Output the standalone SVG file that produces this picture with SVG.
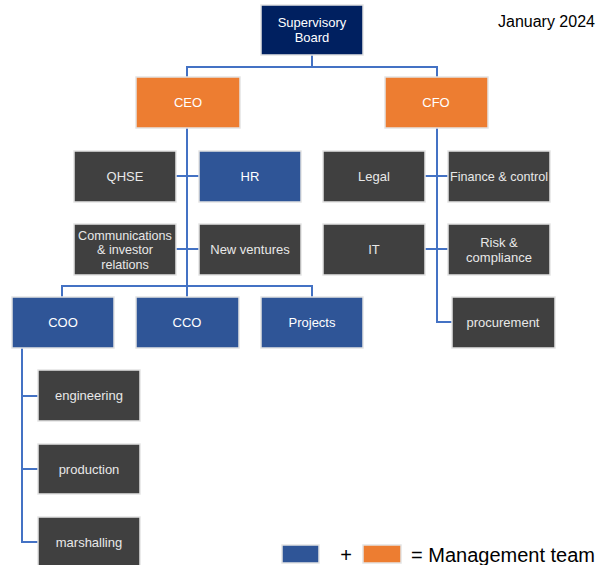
<svg xmlns="http://www.w3.org/2000/svg" width="599" height="565" viewBox="0 0 599 565">
<style>
.box{stroke:#e4e4e4;stroke-width:1.5}
.navy{fill:#002060}
.orange{fill:#ED7D31}
.blue{fill:#2F5597}
.grey{fill:#404040}
.t{font-family:"Liberation Sans",Arial,sans-serif;font-size:13px;fill:#ffffff;text-anchor:middle}
.tg{font-family:"Liberation Sans",Arial,sans-serif;font-size:13px;fill:#e8e8e8;text-anchor:middle}
.conn{fill:none;stroke:#4472C4;stroke-width:2}
.lbl{font-family:"Liberation Sans",Arial,sans-serif;fill:#000000}
</style>
<rect width="599" height="565" fill="#ffffff"/>
<g id="connectors" class="conn">
<path d="M312 55 V67 M187 77 V67 H437 V77"/>
<path d="M187 128 V286 M62 297 V286 H312 V297 M187 286 V297"/>
<path d="M176 176 H199 M176 249 H199"/>
<path d="M437 128 V322 H452 M425 176 H448 M425 249 H448"/>
<path d="M22 348 V542 H38 M22 396 H38 M22 469 H38"/>
</g>
<g id="supervisory-board"><rect class="box navy" x="261" y="5" width="102" height="50"/><text class="t" x="312" y="27">Supervisory</text><text class="t" x="312" y="42">Board</text></g>
<g id="ceo"><rect class="box orange" x="136" y="77" width="104" height="51"/><text class="t" x="188" y="107">CEO</text></g>
<g id="cfo"><rect class="box orange" x="385" y="77" width="103" height="51"/><text class="t" x="436" y="107">CFO</text></g>
<g id="qhse"><rect class="box grey" x="74" y="151" width="102" height="51"/><text class="tg" x="125" y="181">QHSE</text></g>
<g id="hr"><rect class="box blue" x="199" y="151" width="102" height="51"/><text class="t" x="250" y="181">HR</text></g>
<g id="legal"><rect class="box grey" x="323" y="151" width="102" height="51"/><text class="tg" x="374" y="181">Legal</text></g>
<g id="finance"><rect class="box grey" x="448" y="151" width="102" height="51"/><text class="tg" x="499" y="181" style="font-size:12.6px">Finance &amp; control</text></g>
<g id="communications"><rect class="box grey" x="74" y="224" width="102" height="51"/><text class="tg" x="125" y="239.5" style="font-size:12.6px">Communications</text><text class="tg" x="125" y="254" style="font-size:12.6px">&amp; investor</text><text class="tg" x="125" y="269" style="font-size:12.6px">relations</text></g>
<g id="new-ventures"><rect class="box grey" x="199" y="224" width="102" height="51"/><text class="tg" x="250" y="254">New ventures</text></g>
<g id="it"><rect class="box grey" x="323" y="224" width="102" height="51"/><text class="tg" x="374" y="254">IT</text></g>
<g id="risk"><rect class="box grey" x="448" y="224" width="102" height="51"/><text class="tg" x="499" y="246.5">Risk &amp;</text><text class="tg" x="499" y="261.5">compliance</text></g>
<g id="coo"><rect class="box blue" x="12" y="297" width="102" height="51"/><text class="t" x="63" y="327">COO</text></g>
<g id="cco"><rect class="box blue" x="136" y="297" width="103" height="51"/><text class="t" x="187" y="327">CCO</text></g>
<g id="projects"><rect class="box blue" x="261" y="297" width="102" height="51"/><text class="t" x="312" y="327">Projects</text></g>
<g id="procurement"><rect class="box grey" x="452" y="297" width="103" height="51"/><text class="tg" x="503" y="327">procurement</text></g>
<g id="engineering"><rect class="box grey" x="38" y="370" width="102" height="51"/><text class="tg" x="89" y="400">engineering</text></g>
<g id="production"><rect class="box grey" x="38" y="444" width="102" height="50"/><text class="tg" x="89" y="474">production</text></g>
<g id="marshalling"><rect class="box grey" x="38" y="517" width="102" height="51"/><text class="tg" x="89" y="547">marshalling</text></g>
<text class="lbl" x="498" y="27" style="font-size:16px">January 2024</text>
<g id="legend">
<rect class="box blue" x="282" y="545" width="37" height="18"/>
<text class="lbl" x="346" y="562" style="font-size:20px" text-anchor="middle">+</text>
<rect class="box orange" x="363" y="545" width="38" height="18"/>
<text class="lbl" x="411" y="562" style="font-size:20px">= Management team</text>
</g>
</svg>
